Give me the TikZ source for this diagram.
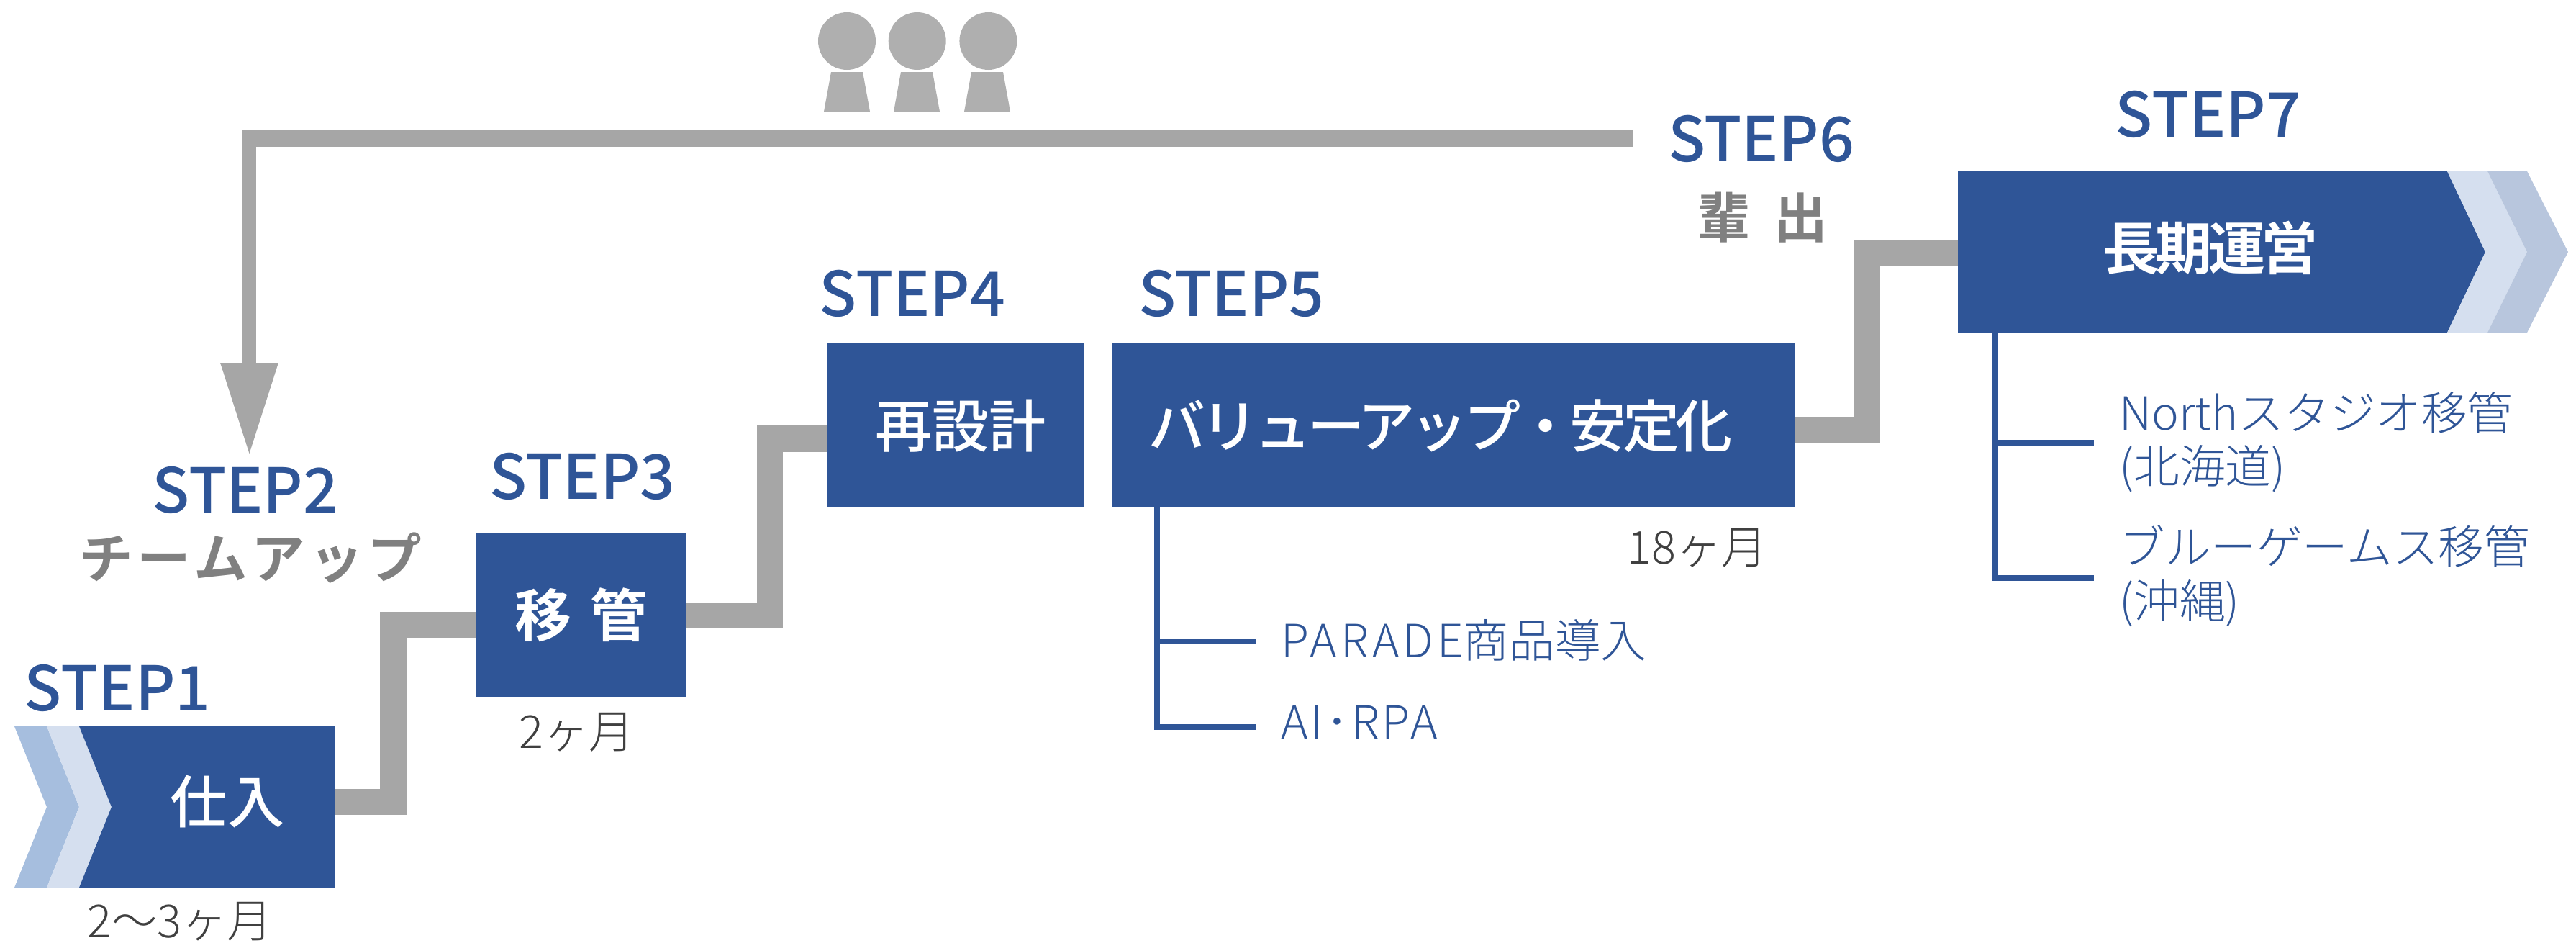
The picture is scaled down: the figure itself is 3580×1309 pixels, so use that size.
\documentclass[tikz,border=0pt]{standalone}
\usepackage{fontspec}
\usepackage{tikz}
\usetikzlibrary{arrows.meta,positioning}
\setmainfont{Noto Sans CJK JP}
\newfontfamily\jplight{Noto Sans CJK JP Light}
\newfontfamily\jpmed{Noto Sans CJK JP Medium}
\newfontfamily\jpbox{Noto Sans CJK JP Bold}[WordSpace=1.4]
\newfontfamily\jptight{Noto Sans CJK JP Medium}[LetterSpace=-7]
\newfontfamily\jptightbf{Noto Sans CJK JP Bold}[LetterSpace=-7]
\newfontfamily\jpteam{Noto Sans CJK JP Bold}[LetterSpace=8,WordSpace=1.4]
\definecolor{stepblue}{HTML}{2F5597}
\definecolor{pipegray}{HTML}{A6A6A6}
\definecolor{mangray}{HTML}{AFAFAF}
\definecolor{chevdark}{HTML}{A6BEDE}
\definecolor{chevlight}{HTML}{D5DFEF}
\definecolor{chevgray}{HTML}{B8C6DD}
\definecolor{teamgray}{HTML}{808080}
\definecolor{termgray}{HTML}{404040}
\tikzset{
	stepbox/.style={rectangle, fill=stepblue, text=white, inner sep=0pt, font=\jpmed\fontsize{45}{50}\selectfont},
	tightbox/.style={inner sep=0pt, text=white, font=\jptight\fontsize{45}{50}\selectfont},
	steplabel/.style={inner sep=0pt, text=stepblue, font=\jpmed\fontsize{48.8}{55}\selectfont},
	teamlabel/.style={inner sep=0pt, text=teamgray, font=\jpteam\fontsize{42.5}{48}\selectfont},
	termlabel/.style={inner sep=0pt, text=termgray, font=\jplight\fontsize{36}{42}\selectfont},
	sublabel/.style={inner sep=0pt, anchor=west, align=left, text=stepblue, font=\jplight\fontsize{36.2}{42.5}\selectfont},
	pipe/.style={draw=pipegray, line width=7.3mm},
	branch/.style={draw=stepblue, line width=1.6mm},
	head/.style={circle, fill=mangray, inner sep=0pt, minimum size=16mm},
}
\begin{document}
\begin{tikzpicture}[x=0.2mm, y=-0.2mm]
	\useasboundingbox (0,0) rectangle (3580,1309);

	\fill[chevdark] (20,1009) -- (65,1009) -- (110,1121) -- (65,1233) -- (20,1233) -- (65,1121) -- cycle;
	\fill[chevlight] (65,1009) -- (110,1009) -- (155,1121) -- (110,1233) -- (65,1233) -- (110,1121) -- cycle;
	\fill[stepblue] (110,1009) -- (156,1009) -- (156,1233) -- (110,1233) -- (155,1121) -- cycle;
	\node[stepbox, minimum width=62mm, minimum height=44.8mm] (s1) at (310,1121) {};
	\node[stepbox, fill=none] (t1) at (316,1113) {仕入};
	\node[stepbox, minimum width=58.2mm, minimum height=45.6mm, font=\jpbox\fontsize{45}{50}\selectfont] (s3) at (807.5,854) {移 管};
	\node[stepbox, minimum width=71.4mm, minimum height=45.6mm] (s4) at (1328.5,591) {};
	\node[stepbox, fill=none] (t4) at (1335,592) {再設計};
	\node[stepbox, minimum width=189.8mm, minimum height=45.6mm, right=7.6mm of s4] (s5) {};
	\node[tightbox] (t5) at (2002,592) {バリューアップ・安定化};
	\node[stepbox, minimum width=136mm, minimum height=44.8mm] (s7) at (3061,350) {};
	\fill[stepblue] (3400,238) -- (3401,238) -- (3454,350) -- (3401,462) -- (3400,462) -- cycle;
	\fill[chevlight] (3401,238) -- (3457,238) -- (3512,350) -- (3457,462) -- (3401,462) -- (3454,350) -- cycle;
	\fill[chevgray] (3457,238) -- (3512,238) -- (3569,350) -- (3512,462) -- (3457,462) -- (3512,350) -- cycle;
	\node[tightbox, font=\jptightbf\fontsize{45}{50}\selectfont] (t7) at (3072,344) {長期運営};

	\node[steplabel, above=4mm of s1.north west, xshift=1.7mm] (l1) {STEP1};
	\node[steplabel] (l2) at (341,681) {STEP2};
	\node[steplabel, above=9mm of s3, xshift=0.4mm] (l3) {STEP3};
	\node[steplabel, above=7.2mm of s4, xshift=-12.1mm] (l4) {STEP4};
	\node[steplabel, above=7.2mm of s5.north west, xshift=33.2mm] (l5) {STEP5};
	\node[steplabel] (l6) at (2447.5,193) {STEP6};
	\node[steplabel, above=9.2mm of s7, xshift=1.6mm] (l7) {STEP7};
	\node[teamlabel] (team) at (348,775) {チームアップ};
	\node[teamlabel] (out) at (2449,302) {輩 出};

	\node[termlabel] (m1) at (250,1280) {2〜3ヶ月};
	\node[termlabel] (m3) at (802,1017) {2ヶ月};
	\node[termlabel] (m5) at (2359,761) {18ヶ月};

	\coordinate (k1) at (546.5,1114);
	\coordinate (k2) at (546.5,868);
	\coordinate (k3) at (1070,855);
	\coordinate (k4) at (1070,609.5);
	\coordinate (k5) at (2594.5,597);
	\coordinate (k6) at (2594.5,351.5);
	\draw[pipe] (s1.east |- k1) -- (k1) -- (k2) -- (k2 -| s3.west);
	\draw[pipe] (s3.east |- k3) -- (k3) -- (k4) -- (k4 -| s4.west);
	\draw[pipe] (s5.east |- k5) -- (k5) -- (k6) -- (k6 -| s7.west);

	\coordinate (k7) at (2269,192.5);
	\coordinate (k8) at (337,192.5);
	\coordinate (k9) at (346.5,181);
	\coordinate (k10) at (346.5,633);
	\draw[draw=pipegray, line width=4.6mm] (k7) -- (k8);
	\draw[draw=pipegray, line width=3.8mm, -{Triangle[length=25.8mm,width=15mm]}] (k9) -- (k10);

	\node[head] (h1) at (1177,57) {};
	\node[head, right=3.4mm of h1] (h2) {};
	\node[head, right=3.6mm of h2] (h3) {};
	\fill[mangray] (1155,100) -- (1199,100) -- (1209,155) -- (1145,155) -- cycle;
	\fill[mangray] (1252,100) -- (1296,100) -- (1306,155) -- (1242,155) -- cycle;
	\fill[mangray] (1350,100) -- (1394,100) -- (1404,155) -- (1340,155) -- cycle;

	\coordinate (j1) at (1608,891);
	\coordinate (j2) at (1608,1010);
	\coordinate (e1) at (1746,891);
	\coordinate (e2) at (1746,1010);
	\draw[branch] (s5.south -| j1) -- (j2) -- (e2);
	\draw[branch] (j1) -- (e1);
	\node[sublabel] (p1) at (1780,889) {{\addfontfeature{LetterSpace=8}PARADE}商品導入};
	\node[sublabel] (p2) at (1780,1003) {{\addfontfeature{LetterSpace=6}AI･RPA}};

	\coordinate (j3) at (2773,615);
	\coordinate (j4) at (2773,803);
	\coordinate (e3) at (2910,615);
	\coordinate (e4) at (2910,803);
	\draw[branch] (s7.south -| j3) -- (j4) -- (e4);
	\draw[branch] (j3) -- (e3);
	\node[sublabel] (p3) at (2945,614) {Northスタジオ移管\\(北海道)};
	\node[sublabel] (p4) at (2945,800) {ブルーゲームス移管\\(沖縄)};
\end{tikzpicture}
\end{document}
